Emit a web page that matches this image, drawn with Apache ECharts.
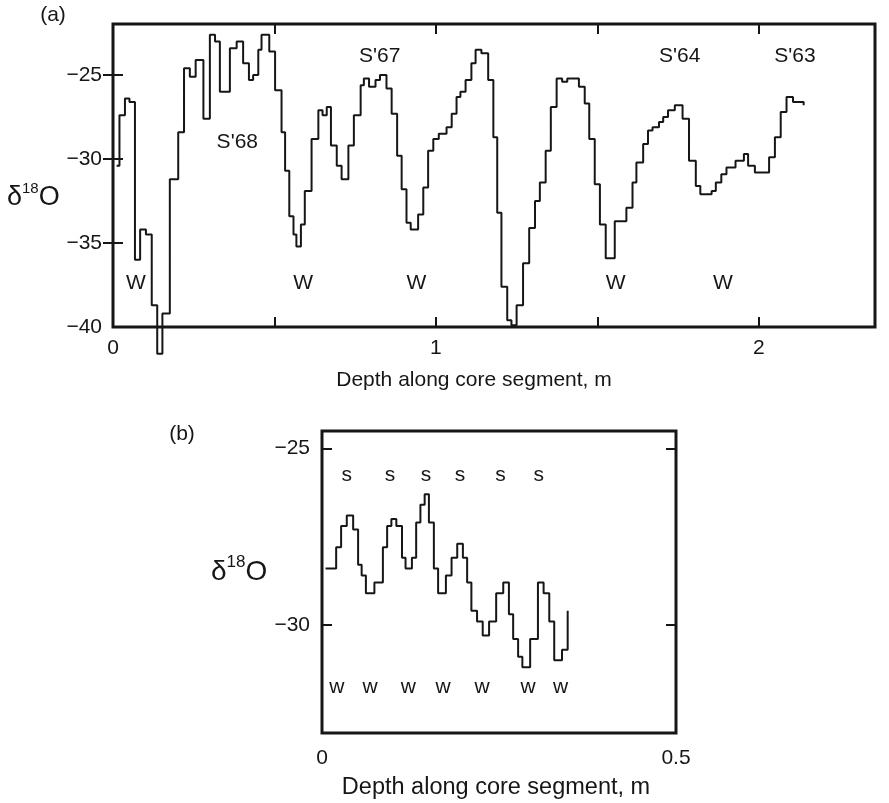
<!DOCTYPE html>
<html>
<head>
<meta charset="utf-8">
<script src="https://cdn.jsdelivr.net/npm/echarts@6.0.0/dist/echarts.min.js"></script>
<style>
  html, body { margin: 0; padding: 0; background: #fff; }
  #chart { width: 889px; height: 803px; }
</style>
</head>
<body>
<div id="chart"></div>
<script>
// (a) long core segment, step record
var depthA = [0.011, 0.020, 0.037, 0.051, 0.068, 0.084, 0.102, 0.120, 0.137, 0.153,
  0.176, 0.202, 0.220, 0.238, 0.256, 0.280, 0.300, 0.316, 0.331, 0.362,
  0.383, 0.403, 0.421, 0.434, 0.450, 0.460, 0.484, 0.502, 0.522, 0.533,
  0.546, 0.559, 0.568, 0.582, 0.594, 0.615, 0.636, 0.649, 0.662, 0.675,
  0.693, 0.708, 0.729, 0.746, 0.767, 0.777, 0.793, 0.813, 0.827, 0.847,
  0.863, 0.880, 0.894, 0.909, 0.922, 0.945, 0.961, 0.976, 0.992, 1.009,
  1.033, 1.049, 1.064, 1.076, 1.092, 1.110, 1.123, 1.141, 1.162, 1.178,
  1.190, 1.203, 1.221, 1.234, 1.250, 1.270, 1.289, 1.307, 1.322, 1.340,
  1.356, 1.374, 1.391, 1.407, 1.443, 1.461, 1.475, 1.492, 1.508, 1.526,
  1.554, 1.590, 1.609, 1.621, 1.642, 1.657, 1.671, 1.691, 1.704, 1.719,
  1.740, 1.764, 1.784, 1.805, 1.819, 1.854, 1.867, 1.884, 1.900, 1.928,
  1.954, 1.967, 1.988, 2.032, 2.050, 2.068, 2.086, 2.106, 2.139]
var o18A = [-30.4, -27.4, -26.4, -26.6, -36.0, -34.2, -34.5, -38.7, -41.6, -39.2,
  -31.2, -28.4, -24.6, -25.1, -24.1, -27.6, -22.6, -23.0, -26.0, -23.4,
  -23.0, -24.3, -25.3, -25.0, -23.5, -22.6, -23.6, -25.9, -28.4, -30.7,
  -33.4, -34.5, -35.2, -33.9, -31.9, -28.8, -27.1, -27.4, -26.9, -29.2,
  -30.4, -31.2, -29.2, -27.4, -25.6, -25.2, -25.7, -25.3, -25.0, -25.8,
  -27.3, -29.8, -31.8, -33.8, -34.2, -33.3, -31.7, -29.5, -28.8, -28.5,
  -28.1, -27.3, -26.3, -26.0, -25.3, -24.3, -23.5, -23.7, -25.3, -28.7,
  -33.2, -37.6, -39.6, -39.9, -38.7, -36.2, -34.1, -32.5, -31.4, -29.5,
  -26.9, -25.2, -25.4, -25.2, -25.7, -26.7, -28.8, -31.5, -33.9, -35.9,
  -33.7, -32.9, -31.4, -30.2, -29.1, -28.3, -28.1, -27.8, -27.5, -27.1,
  -26.8, -27.6, -30.1, -31.6, -32.1, -31.9, -31.4, -30.9, -30.5, -30.1,
  -29.7, -30.4, -30.8, -29.9, -28.7, -27.2, -26.3, -26.6, -26.8]

// (b) short core segment
var depthB = [0.005, 0.020, 0.027, 0.035, 0.044, 0.051, 0.056, 0.062, 0.074, 0.086,
  0.092, 0.098, 0.105, 0.113, 0.118, 0.127, 0.133, 0.139, 0.145, 0.151,
  0.158, 0.164, 0.175, 0.183, 0.191, 0.199, 0.205, 0.211, 0.219, 0.227,
  0.236, 0.246, 0.256, 0.264, 0.270, 0.277, 0.283, 0.294, 0.305, 0.313,
  0.321, 0.328, 0.339, 0.347]
var o18B = [-28.4, -27.8, -27.2, -26.9, -27.3, -28.3, -28.6, -29.1, -28.8, -27.8,
  -27.2, -27.0, -27.2, -28.1, -28.4, -28.1, -27.1, -26.6, -26.3, -27.1,
  -28.4, -29.1, -28.6, -28.1, -27.7, -28.1, -28.8, -29.6, -29.9, -30.3,
  -29.9, -29.1, -28.8, -29.7, -30.4, -30.9, -31.2, -30.4, -28.8, -29.1,
  -29.9, -31.0, -30.7, -29.6]

// season marks
var markTextA = ['W', "S'68", 'W', "S'67", 'W', 'W', "S'64", 'W', "S'63"]
var markDepthA = [0.071, 0.385, 0.589, 0.826, 0.940, 1.557, 1.755, 1.889, 2.112]
var markO18A = [-37.4, -29.0, -37.4, -23.85, -37.4, -37.4, -23.85, -37.4, -23.85]

var markTextB = ['s', 's', 's', 's', 's', 's', 'w', 'w', 'w', 'w', 'w', 'w', 'w']
var markDepthB = [0.035, 0.096, 0.147, 0.195, 0.252, 0.306, 0.021, 0.068, 0.122, 0.171, 0.226, 0.291, 0.337]
var markO18B = [-25.75, -25.75, -25.75, -25.75, -25.75, -25.75, -31.75, -31.75, -31.75, -31.75, -31.75, -31.75, -31.75]

// ticks
var xTicksA = [0, 0.5, 1, 1.5, 2]
var xLabelsA = [0, 1, 2]
var yTicksA = [-40, -35, -30, -25]
var xLabelsB = [0, 0.5]
var yTicksB = [-30, -25]

var ink = '#161616'
var font = '"Liberation Sans", Arial, Helvetica, sans-serif'

function pairs (xs, ys) {
  var out = []
  for (var i = 0; i < xs.length; i++) out.push([xs[i], ys[i]])
  return out
}
function marks (txt, xs, ys) {
  var out = []
  for (var i = 0; i < txt.length; i++) out.push({ name: txt[i], value: [xs[i], ys[i]] })
  return out
}
function minus (v) { return String(v).replace('-', '\u2212') }

// axis helper: only ticks / labels at the given values
function axis (idx, pos, min, max, ticks, labels, margin, fs) {
  return {
    type: 'value', gridIndex: idx, position: pos, min: min, max: max,
    splitLine: { show: false },
    axisLine: { show: false },
    axisTick: { show: ticks.length > 0, inside: true, length: 10, customValues: ticks, lineStyle: { color: ink, width: 2 } },
    axisLabel: { show: labels.length > 0, customValues: labels, margin: margin, color: ink, fontFamily: font, fontSize: fs, formatter: minus }
  }
}

var chart = echarts.init(document.getElementById('chart'), null, { renderer: 'canvas' })

var lineStyle = { color: ink, width: 2 }
var labelStyle = { show: true, position: 'inside', color: ink, fontFamily: font, formatter: '{b}' }

chart.setOption({
  backgroundColor: '#fff',
  animation: false,
  grid: [
    { left: 113, top: 24, width: 762, height: 303, show: true, borderColor: ink, borderWidth: 3, backgroundColor: 'transparent' },
    { left: 322, top: 431, width: 354, height: 302, show: true, borderColor: ink, borderWidth: 3, backgroundColor: 'transparent' }
  ],
  xAxis: [
    axis(0, 'bottom', 0, 2.36, xTicksA, xLabelsA, 11, 21),
    axis(0, 'top', 0, 2.36, xTicksA.slice(1), [], 0, 21),
    axis(1, 'bottom', 0, 0.5, [], xLabelsB, 15, 21)
  ],
  yAxis: [
    axis(0, 'left', -40, -21.96, yTicksA.slice(1), yTicksA, 11, 21),
    axis(0, 'right', -40, -21.96, yTicksA.slice(1), [], 0, 21),
    axis(1, 'left', -33.06, -24.51, yTicksB, yTicksB, 12, 21),
    axis(1, 'right', -33.06, -24.51, yTicksB, [], 0, 21)
  ],
  series: [
    {
      type: 'line', xAxisIndex: 0, yAxisIndex: 0, step: 'end', showSymbol: false,
      clip: false, silent: true, lineStyle: lineStyle, data: pairs(depthA, o18A)
    },
    {
      type: 'line', xAxisIndex: 2, yAxisIndex: 2, step: 'end', showSymbol: false,
      silent: true, lineStyle: lineStyle, data: pairs(depthB, o18B)
    },
    {
      type: 'scatter', xAxisIndex: 0, yAxisIndex: 0, symbolSize: 0, silent: true,
      itemStyle: { opacity: 1 },
      label: Object.assign({ fontSize: 21 }, labelStyle), data: marks(markTextA, markDepthA, markO18A)
    },
    {
      type: 'scatter', xAxisIndex: 2, yAxisIndex: 2, symbolSize: 0, silent: true,
      itemStyle: { opacity: 1 },
      label: Object.assign({ fontSize: 21 }, labelStyle), data: marks(markTextB, markDepthB, markO18B)
    }
  ],
  graphic: [
    { type: 'text', x: 53, y: 15, style: { text: '(a)', font: '21px ' + font, fill: ink, align: 'center', verticalAlign: 'middle' } },
    { type: 'text', x: 182, y: 434, style: { text: '(b)', font: '21px ' + font, fill: ink, align: 'center', verticalAlign: 'middle' } },
    {
      type: 'text', x: 7, y: 196,
      style: {
        text: '{d|\u03b4}{s|18}{d|O}', fill: ink, align: 'left', verticalAlign: 'middle',
        rich: {
          d: { fontSize: 27, fontFamily: font, lineHeight: 30, verticalAlign: 'bottom', fill: ink },
          s: { fontSize: 15, fontFamily: font, lineHeight: 30, verticalAlign: 'top', fill: ink }
        }
      }
    },
    {
      type: 'text', x: 211, y: 570,
      style: {
        text: '{d|\u03b4}{s|18}{d|O}', fill: ink, align: 'left', verticalAlign: 'middle',
        rich: {
          d: { fontSize: 28, fontFamily: font, lineHeight: 32, verticalAlign: 'bottom', fill: ink },
          s: { fontSize: 17, fontFamily: font, lineHeight: 32, verticalAlign: 'top', fill: ink }
        }
      }
    },
    { type: 'text', x: 474, y: 380, style: { text: 'Depth along core segment, m', font: '21px ' + font, fill: ink, align: 'center', verticalAlign: 'middle' } },
    { type: 'text', x: 496, y: 788, style: { text: 'Depth along core segment, m', font: '23.5px ' + font, fill: ink, align: 'center', verticalAlign: 'middle' } }
  ]
})
</script>
</body>
</html>
